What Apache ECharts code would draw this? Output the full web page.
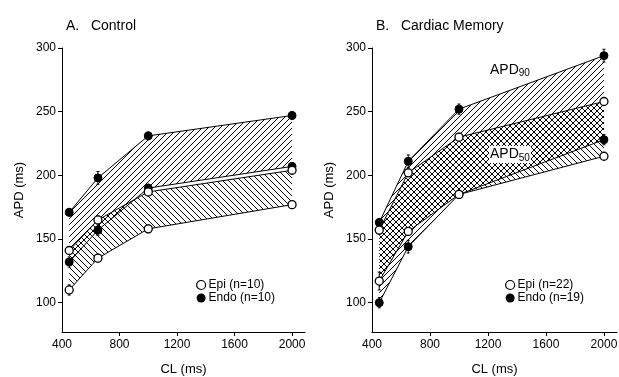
<!DOCTYPE html>
<html>
<head>
<meta charset="utf-8">
<script src="https://cdn.jsdelivr.net/npm/echarts@6/dist/echarts.min.js"></script>
<style>
  html, body { margin: 0; padding: 0; background: #fff; }
  #chart { width: 619px; height: 377px; }
</style>
</head>
<body>
<div id="chart"></div>
<script>
// Cycle lengths (ms) at which APD was measured
const cycleLengths = [450, 650, 1000, 2000];

// A. Control — APD90 / APD50 (ms)
const ctrlEndo90 = [171, 198, 231, 247];
const ctrlEndo50 = [132, 157, 190, 207];
const ctrlEpi90  = [141, 165, 187, 204];
const ctrlEpi50  = [110, 135, 158, 177];
const ctrlEndo90Err = [3, 5, 3, 3];
const ctrlEndo50Err = [4, 4, 3, 3];
const ctrlEpi90Err  = [3, 3, 3, 3];
const ctrlEpi50Err  = [4, 3, 3, 2];

// B. Cardiac memory — APD90 / APD50 (ms)
const memEndo90 = [163, 211, 252, 294];
const memEndo50 = [100, 144, 185, 228];
const memEpi90  = [157, 202, 230, 258];
const memEpi50  = [117, 156, 185, 215];
const memEndo90Err = [3, 5, 4, 5];
const memEndo50Err = [4, 5, 3, 4];
const memEpi90Err  = [3, 3, 3, 3];
const memEpi50Err  = [7, 3, 3, 2];

// Axis ticks
const xTicks = [400, 800, 1200, 1600, 2000];
const xTickMarks = [800, 1200, 1600, 2000];
const yTicks = [100, 150, 200, 250, 300];

const FONT = 'Liberation Sans, Arial, Helvetica, sans-serif';

// Diagonal hatch tiles used to fill the APD bands
function hatchTile(dir, size) {
  const c = document.createElement('canvas');
  c.width = size; c.height = size;
  const g = c.getContext('2d');
  g.strokeStyle = '#000';
  g.lineWidth = 1;
  g.beginPath();
  if (dir === '/') {
    g.moveTo(0, size); g.lineTo(size, 0);
    g.moveTo(-1, 1); g.lineTo(1, -1);
    g.moveTo(size - 1, size + 1); g.lineTo(size + 1, size - 1);
  } else {
    g.moveTo(0, 0); g.lineTo(size, size);
    g.moveTo(size - 1, -1); g.lineTo(size + 1, 1);
    g.moveTo(-1, size - 1); g.lineTo(1, size + 1);
  }
  g.stroke();
  return c;
}
const slashTile = hatchTile('/', 6);
const backTile = hatchTile('\\', 6);

// Band between an upper and a lower curve, filled with a hatch pattern
function band(axis, upper, lower, tile) {
  return {
    type: 'custom',
    xAxisIndex: axis, yAxisIndex: axis,
    silent: true,
    z: 1,
    data: [[cycleLengths[0], upper[0]]],
    renderItem(params, api) {
      const top = cycleLengths.map((x, i) => api.coord([x, upper[i]]));
      const bottom = cycleLengths.map((x, i) => api.coord([x, lower[i]])).reverse();
      return {
        type: 'polygon',
        shape: { points: top.concat(bottom) },
        style: { fill: { image: tile, repeat: 'repeat' }, stroke: null }
      };
    }
  };
}

// Mean ± SEM whiskers
function errorBars(axis, values, errs) {
  return {
    type: 'custom',
    xAxisIndex: axis, yAxisIndex: axis,
    silent: true,
    z: 2,
    data: cycleLengths.map((x, i) => [x, values[i], errs[i]]),
    renderItem(params, api) {
      const x = api.value(0), v = api.value(1), e = api.value(2);
      const hi = api.coord([x, v + e]);
      const lo = api.coord([x, v - e]);
      const st = { stroke: '#000', lineWidth: 1 };
      return {
        type: 'group',
        children: [
          { type: 'line', shape: { x1: hi[0], y1: hi[1], x2: lo[0], y2: lo[1] }, style: st },
          { type: 'line', shape: { x1: hi[0] - 1.5, y1: hi[1], x2: hi[0] + 1.5, y2: hi[1] }, style: st },
          { type: 'line', shape: { x1: lo[0] - 1.5, y1: lo[1], x2: lo[0] + 1.5, y2: lo[1] }, style: st }
        ]
      };
    }
  };
}

function curve(axis, name, values, open) {
  return {
    type: 'line',
    name: name,
    xAxisIndex: axis, yAxisIndex: axis,
    z: 3,
    data: cycleLengths.map((x, i) => [x, values[i]]),
    symbol: 'circle',
    symbolSize: 8,
    lineStyle: { color: '#000', width: 1 },
    itemStyle: open
      ? { color: '#fff', borderColor: '#000', borderWidth: 1.3 }
      : { color: '#000', borderColor: '#000', borderWidth: 1 },
    emphasis: { disabled: true },
    animation: false
  };
}

function xAxisFor(grid) {
  return {
    type: 'value', gridIndex: grid,
    min: 400, max: 2090,
    name: 'CL (ms)', nameLocation: 'middle', nameGap: 31,
    nameTextStyle: { fontFamily: FONT, fontSize: 13, color: '#000' },
    axisLine: { show: true, onZero: false, lineStyle: { color: '#000', width: 1 } },
    axisTick: { show: true, length: 4, customValues: xTickMarks, lineStyle: { color: '#000' } },
    axisLabel: {
      customValues: xTicks, fontFamily: FONT, fontSize: 12, color: '#000', margin: 7,
      formatter: v => String(v)
    },
    splitLine: { show: false }
  };
}

function yAxisFor(grid) {
  return {
    type: 'value', gridIndex: grid,
    min: 77, max: 300,
    name: 'APD (ms)', nameLocation: 'middle', nameGap: 36, nameRotate: 90,
    nameTextStyle: { fontFamily: FONT, fontSize: 13, color: '#000' },
    axisLine: { show: true, onZero: false, lineStyle: { color: '#000', width: 1 } },
    axisTick: { show: true, length: 4, customValues: yTicks, lineStyle: { color: '#000' } },
    axisLabel: {
      customValues: yTicks, fontFamily: FONT, fontSize: 12, color: '#000', margin: 6,
      formatter: v => String(v)
    },
    splitLine: { show: false }
  };
}

function legendFor(left, epiName, endoName) {
  return {
    orient: 'vertical',
    left: left, top: 274,
    itemWidth: 9, itemHeight: 9, itemGap: 1,
    icon: 'circle',
    selectedMode: false,
    textStyle: { fontFamily: FONT, fontSize: 12, color: '#000', padding: [0, 0, 0, -2] },
    data: [
      { name: epiName, itemStyle: { color: '#fff', borderColor: '#000', borderWidth: 1.2 } },
      { name: endoName, itemStyle: { color: '#000', borderColor: '#000', borderWidth: 0 } }
    ]
  };
}

const chart = echarts.init(document.getElementById('chart'), null, { renderer: 'canvas' });

chart.setOption({
  backgroundColor: '#fff',
  animation: false,
  title: [
    { text: 'A.   Control', left: 61, top: 14, textStyle: { fontFamily: FONT, fontSize: 14, fontWeight: 'normal', color: '#000' } },
    { text: 'B.   Cardiac Memory', left: 371, top: 14, textStyle: { fontFamily: FONT, fontSize: 14, fontWeight: 'normal', color: '#000' } }
  ],
  grid: [
    { left: 62, top: 48, width: 243, height: 284, outerBoundsMode: 'none', containLabel: false },
    { left: 372, top: 48, width: 245, height: 284, outerBoundsMode: 'none', containLabel: false }
  ],
  xAxis: [xAxisFor(0), xAxisFor(1)],
  yAxis: [yAxisFor(0), yAxisFor(1)],
  legend: [
    legendFor(191, 'Epi (n=10)', 'Endo (n=10)'),
    legendFor(500, 'Epi (n=22)', 'Endo (n=19)')
  ],
  graphic: [
    {
      type: 'text', left: 490, top: 63, z: 10,
      style: {
        text: '{b|APD}{s|90}',
        rich: {
          b: { fontFamily: FONT, fontSize: 14, fill: '#000' },
          s: { fontFamily: FONT, fontSize: 10, fill: '#000', padding: [7, 0, 0, 0] }
        }
      }
    },
    {
      type: 'text', left: 489, top: 146, z: 10,
      style: {
        text: '{b|APD}{s|50}',
        backgroundColor: '#fff',
        padding: [0, 1, 0, 1],
        rich: {
          b: { fontFamily: FONT, fontSize: 14, fill: '#000' },
          s: { fontFamily: FONT, fontSize: 10, fill: '#000', padding: [7, 0, 0, 0] }
        }
      }
    }
  ],
  series: [
    // A. Control
    band(0, ctrlEndo90, ctrlEndo50, slashTile),
    band(0, ctrlEpi90, ctrlEpi50, backTile),
    errorBars(0, ctrlEndo90, ctrlEndo90Err),
    errorBars(0, ctrlEndo50, ctrlEndo50Err),
    errorBars(0, ctrlEpi90, ctrlEpi90Err),
    errorBars(0, ctrlEpi50, ctrlEpi50Err),
    curve(0, 'Endo (n=10)', ctrlEndo90, false),
    curve(0, 'Endo (n=10)', ctrlEndo50, false),
    curve(0, 'Epi (n=10)', ctrlEpi90, true),
    curve(0, 'Epi (n=10)', ctrlEpi50, true),
    // B. Cardiac memory
    band(1, memEndo90, memEndo50, slashTile),
    band(1, memEpi90, memEpi50, backTile),
    errorBars(1, memEndo90, memEndo90Err),
    errorBars(1, memEndo50, memEndo50Err),
    errorBars(1, memEpi90, memEpi90Err),
    errorBars(1, memEpi50, memEpi50Err),
    curve(1, 'Endo (n=19)', memEndo90, false),
    curve(1, 'Endo (n=19)', memEndo50, false),
    curve(1, 'Epi (n=22)', memEpi90, true),
    curve(1, 'Epi (n=22)', memEpi50, true)
  ]
});
</script>
</body>
</html>
